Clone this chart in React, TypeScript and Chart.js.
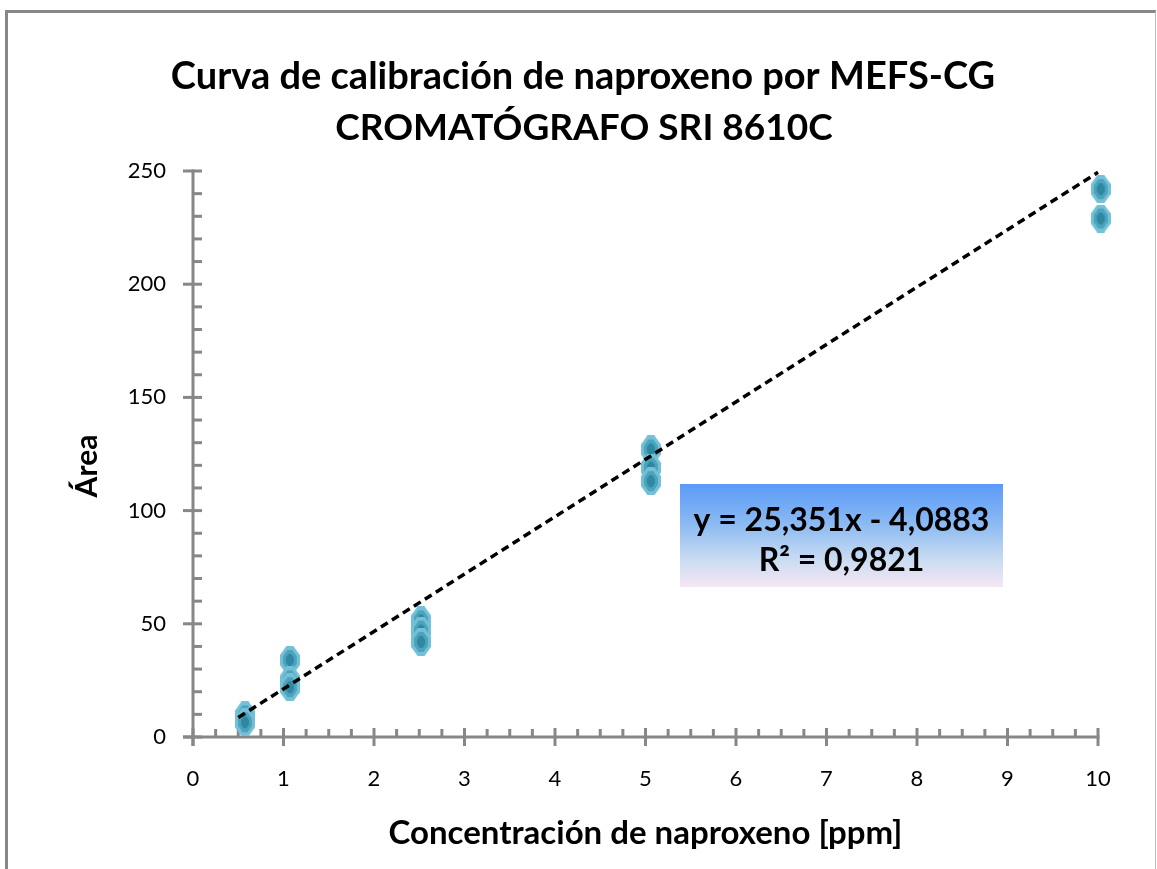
import React, { useEffect, useRef } from "react";
import { Chart, registerables } from "chart.js";
Chart.register(...registerables);

// ---- data ----
const pointX = [10.03, 10.03, 0.575, 0.575, 1.07, 1.07, 1.07, 2.52, 2.52, 2.52, 5.06, 5.06, 5.06];
const pointY = [242, 229, 9.5, 6.5, 34, 25, 22, 51.5, 47, 42, 127, 119, 113];
const slope = 25.351;
const intercept = -4.0883;
const trendX = [0.5, 10];
const xTickValues = [0, 1, 2, 3, 4, 5, 6, 7, 8, 9, 10];
const yTickValues = [0, 50, 100, 150, 200, 250];
const titleLines = ["Curva de calibración de naproxeno por MEFS-CG", "CROMATÓGRAFO SRI 8610C"];
const xTitle = "Concentración de naproxeno [ppm]";
const yTitle = "Área";
const equationLines = ["y = 25,351x - 4,0883", "R² = 0,9821"];

const FONT = "Lato, 'Open Sans', 'Liberation Sans', sans-serif";
const AXIS_GRAY = "#878787";

function makeMarker(): HTMLCanvasElement {
  const c = document.createElement("canvas");
  c.width = 20;
  c.height = 28;
  const g = c.getContext("2d")!;
  const oct = (l: number, t: number, r: number, b: number, cx: number, cy: number, col: string) => {
    g.fillStyle = col;
    g.beginPath();
    g.moveTo(cx - l * 0.35, t);
    g.lineTo(cx + r * 0.35, t);
    g.lineTo(cx + r, cy - (cy - t) * 0.35);
    g.lineTo(cx + r, cy + (b - cy) * 0.35);
    g.lineTo(cx + r * 0.35, b);
    g.lineTo(cx - l * 0.35, b);
    g.lineTo(cx - l, cy + (b - cy) * 0.35);
    g.lineTo(cx - l, cy - (cy - t) * 0.35);
    g.closePath();
    g.fill();
  };
  oct(10, 0, 10, 28, 10, 14, "#74C0D6");
  oct(7, 4, 7, 24, 10, 14, "#4BA3BD");
  oct(4, 8, 4, 20, 10, 14, "#2E88A2");
  return c;
}

const axesPlugin = {
  id: "excelAxes",
  beforeDatasetsDraw(chart: any) {
    const { ctx, scales } = chart;
    const xs = scales.x;
    const ys = scales.y;
    const x0 = xs.getPixelForValue(0);
    const y0 = ys.getPixelForValue(0);
    const xEnd = xs.getPixelForValue(xTickValues[xTickValues.length - 1]);
    const yTop = ys.getPixelForValue(yTickValues[yTickValues.length - 1]);
    ctx.save();
    ctx.strokeStyle = AXIS_GRAY;
    ctx.lineWidth = 3;
    const line = (a: number, b: number, c: number, d: number) => {
      ctx.beginPath();
      ctx.moveTo(a, b);
      ctx.lineTo(c, d);
      ctx.stroke();
    };
    line(x0, yTop - 1.5, x0, y0 + 9);
    line(x0 - 10, y0, xEnd + 1.5, y0);
    yTickValues.forEach((v) => {
      const p = ys.getPixelForValue(v);
      line(x0 - 10, p, x0 + 9, p);
    });
    for (let i = 1; i < 25; i++) {
      if (i % 5 === 0) continue;
      const p = ys.getPixelForValue(i * 10);
      line(x0, p, x0 + 9, p);
    }
    xTickValues.forEach((v) => {
      const p = xs.getPixelForValue(v);
      line(p, y0 - 9, p, y0 + 9);
    });
    for (let i = 1; i < 40; i++) {
      if (i % 4 === 0) continue;
      const p = xs.getPixelForValue(i * 0.25);
      line(p, y0 - 8, p, y0);
    }
    ctx.restore();

    // main title
    ctx.save();
    ctx.fillStyle = "#000";
    ctx.font = `bold 38px ${FONT}`;
    ctx.textAlign = "center";
    ctx.textBaseline = "middle";
    ctx.fillText(titleLines[0], 583, 77);
    ctx.font = `bold 37px ${FONT}`;
    ctx.fillText(titleLines[1], 584, 128);
    ctx.restore();
  },
  afterDraw(chart: any) {
    const { ctx } = chart;
    ctx.save();
    // y axis title
    ctx.fillStyle = "#000";
    ctx.font = `bold 30px ${FONT}`;
    ctx.textAlign = "center";
    ctx.textBaseline = "middle";
    ctx.translate(87, 466);
    ctx.rotate(-Math.PI / 2);
    ctx.fillText(yTitle, 0, 0);
    ctx.restore();

    // equation box
    ctx.save();
    const bx = 680, by = 484, bw = 323, bh = 103;
    const grad = ctx.createLinearGradient(0, by, 0, by + bh);
    grad.addColorStop(0, "#5A9AF8");
    grad.addColorStop(0.4, "#8DBBF2");
    grad.addColorStop(0.75, "#CCDDF2");
    grad.addColorStop(1, "#F6E6F4");
    ctx.fillStyle = grad;
    ctx.fillRect(bx, by, bw, bh);
    ctx.fillStyle = "#000";
    ctx.font = `bold 32px ${FONT}`;
    ctx.textAlign = "center";
    ctx.textBaseline = "middle";
    ctx.fillText(equationLines[0], bx + bw / 2, 521);
    ctx.fillText(equationLines[1], bx + bw / 2, 561);
    ctx.restore();
  },
};

export default function App() {
  const ref = useRef<HTMLCanvasElement>(null);
  useEffect(() => {
    document.body.style.margin = "0";
    document.body.style.overflow = "hidden";
    document.body.style.background = "#fff";
    const marker = makeMarker();
    const trendData = trendX.map((x) => ({ x, y: slope * x + intercept }));
    const chart = new Chart(ref.current!, {
      type: "scatter",
      data: {
        datasets: [
          {
            type: "line",
            label: "Tendencia",
            data: trendData,
            borderColor: "#000",
            borderWidth: 3.5,
            borderDash: [8, 5],
            pointRadius: 0,
            fill: false,
            clip: false,
            order: 1,
          } as any,
          {
            label: "Área",
            data: pointX.map((x, i) => ({ x, y: pointY[i] })),
            pointStyle: marker as any,
            pointRadius: 10,
            clip: false,
            order: 2,
          } as any,
        ],
      },
      options: {
        responsive: false,
        animation: false,
        devicePixelRatio: 1,
        layout: { padding: { left: 0, right: 59, top: 171, bottom: 0 } },
        plugins: {
          legend: { display: false },
          tooltip: { enabled: false },
          title: { display: false },
        },
        scales: {
          x: {
            type: "linear",
            min: 0,
            max: 10,
            afterFit: (s: any) => {
              s.height = 132;
            },
            afterBuildTicks: (s: any) => {
              s.ticks = xTickValues.map((v) => ({ value: v }));
            },
            grid: { display: false, drawTicks: false },
            border: { display: false },
            ticks: {
              color: "#000",
              font: { family: FONT, size: 22 },
              padding: 29,
              maxRotation: 0,
            },
            title: {
              display: true,
              text: xTitle,
              color: "#000",
              font: { family: FONT, size: 33, weight: "bold" },
              padding: { top: 0, bottom: 16 },
            },
          },
          y: {
            type: "linear",
            min: 0,
            max: 250,
            afterFit: (s: any) => {
              s.width = 193;
            },
            afterBuildTicks: (s: any) => {
              s.ticks = yTickValues.map((v) => ({ value: v }));
            },
            grid: { display: false, drawTicks: false },
            border: { display: false },
            ticks: {
              color: "#000",
              font: { family: FONT, size: 22 },
              padding: 27,
            },
          },
        },
      },
      plugins: [axesPlugin],
    });
    return () => chart.destroy();
  }, []);

  return (
    <div style={{ position: "fixed", left: 0, top: 0, width: 1157, height: 869, background: "#fff" }}>
      <div
        style={{
          position: "absolute",
          left: 5,
          top: 10,
          width: 1151,
          height: 859,
          boxSizing: "border-box",
          borderTop: `3px solid ${AXIS_GRAY}`,
          borderLeft: `3px solid ${AXIS_GRAY}`,
          borderRight: "1px solid #BDBDBD",
        }}
      />
      <canvas ref={ref} width={1157} height={869} style={{ position: "absolute", left: 0, top: 0 }} />
    </div>
  );
}
